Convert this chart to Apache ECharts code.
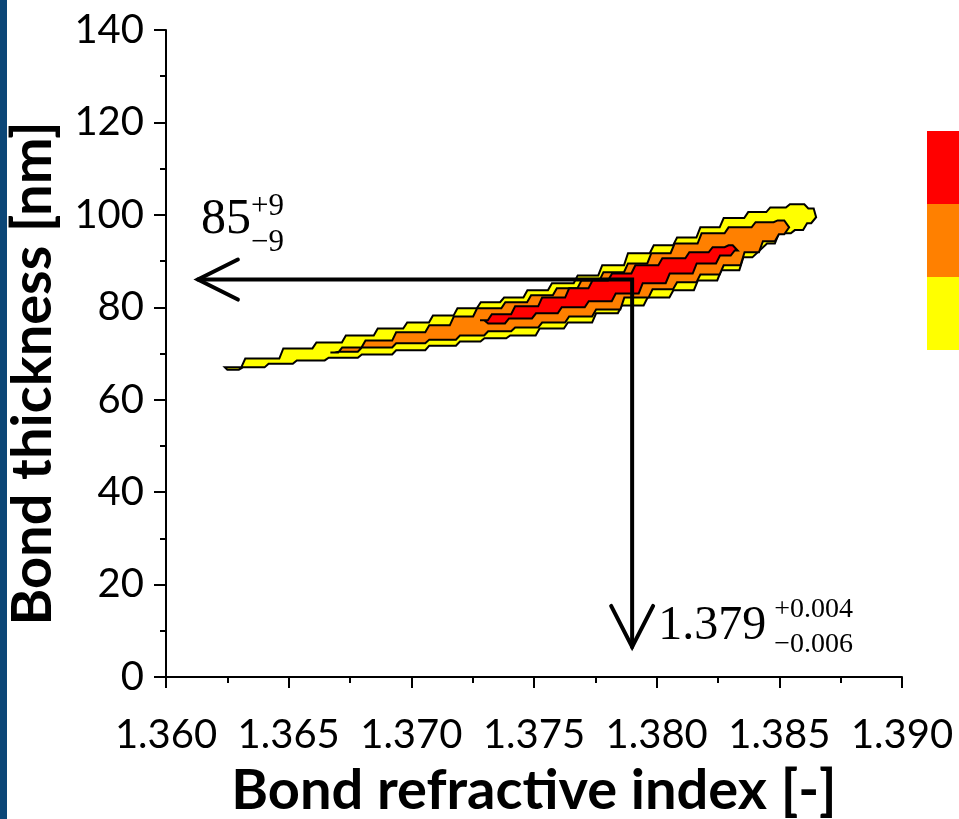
<!DOCTYPE html>
<html>
<head>
<meta charset="utf-8">
<script src="https://cdn.jsdelivr.net/npm/echarts@6/dist/echarts.min.js"></script>
<style>
  html, body { margin: 0; padding: 0; background: #fff; }
  #main { width: 959px; height: 819px; }
</style>
</head>
<body>
<div id="main"></div>
<script>
// axis ticks
var xTicks = [1.360, 1.365, 1.370, 1.375, 1.380, 1.385, 1.390];
var yTicks = [0, 20, 40, 60, 80, 100, 120, 140];

// contour outlines [refractive index, thickness nm]
var yellowContour = [
    [1.3624, 67.0], [1.3639, 68.9], [1.3655, 71.1], [1.3666, 72.4], [1.3679, 73.9],
    [1.3692, 75.4], [1.3703, 76.7], [1.3713, 78.2], [1.3723, 79.8], [1.3732, 81.1],
    [1.3742, 82.1], [1.3751, 83.7], [1.3762, 85.2], [1.3772, 86.9], [1.3782, 89.1],
    [1.3793, 91.7], [1.3803, 93.4], [1.3812, 95.1], [1.3822, 97.3], [1.3831, 99.3],
    [1.3842, 100.6], [1.3849, 101.6], [1.3858, 102.3], [1.3864, 101.4], [1.3865, 99.5],
    [1.3863, 98.2], [1.3858, 96.7], [1.3853, 96.0], [1.3845, 93.8], [1.3839, 90.8],
    [1.3830, 88.0], [1.3821, 85.8], [1.3811, 83.7], [1.3801, 82.1], [1.3790, 80.4],
    [1.3780, 78.7], [1.3769, 76.7], [1.3757, 75.4], [1.3746, 73.9], [1.3733, 73.3],
    [1.3725, 72.6], [1.3713, 71.7], [1.3700, 70.7], [1.3686, 69.8], [1.3672, 69.1],
    [1.3659, 68.5], [1.3646, 67.8], [1.3636, 67.0], [1.3625, 66.5]
];
var orangeContour = [
    [1.3667, 70.2], [1.3675, 71.3], [1.3686, 72.8], [1.3700, 74.6], [1.3713, 76.1],
    [1.3720, 78.0], [1.3732, 79.8], [1.3743, 81.1], [1.3753, 82.6], [1.3764, 84.1],
    [1.3773, 85.8], [1.3782, 87.6], [1.3793, 89.5], [1.3801, 91.7], [1.3812, 93.8],
    [1.3823, 96.0], [1.3834, 97.3], [1.3845, 98.4], [1.3852, 98.8], [1.3854, 97.3],
    [1.3852, 95.8], [1.3846, 94.3], [1.3839, 91.9], [1.3831, 89.1], [1.3822, 87.1],
    [1.3812, 85.4], [1.3803, 83.9], [1.3792, 82.1], [1.3780, 79.5], [1.3769, 78.0],
    [1.3758, 76.7], [1.3747, 75.6], [1.3736, 74.8], [1.3725, 73.9], [1.3713, 73.0],
    [1.3700, 72.2], [1.3686, 71.3], [1.3672, 70.4]
];
var redContour = [
    [1.3728, 77.2], [1.3736, 78.5], [1.3747, 80.2], [1.3758, 82.1], [1.3769, 84.1],
    [1.3777, 85.8], [1.3785, 87.3], [1.3796, 89.1], [1.3807, 90.6], [1.3818, 91.9],
    [1.3826, 93.0], [1.3831, 93.4], [1.3833, 92.3], [1.3829, 91.2], [1.3821, 89.5],
    [1.3810, 87.3], [1.3799, 85.2], [1.3788, 83.0], [1.3777, 81.3], [1.3766, 80.0],
    [1.3755, 78.7], [1.3745, 77.6], [1.3733, 76.5]
];

// best estimate and arrow ends
var bestIndex = 1.379;
var bestThickness = 86;
var arrowLeftIndex = 1.3613;
var arrowBottomThickness = 6.5;

var contours = [
    { pts: yellowContour, color: '#ffff00' },
    { pts: orangeContour, color: '#ff8000' },
    { pts: redContour, color: '#ff0000' }
];

var chart = echarts.init(document.getElementById('main'));

function stepped(points) {
    // grid-like staircase edges like the original contour plot
    var out = [points[0]];
    for (var i = 1; i <= points.length; i++) {
        var p1 = points[i - 1], p2 = points[i % points.length];
        var dx = p2[0] - p1[0], dy = p2[1] - p1[1];
        if (Math.abs(dx) > Math.abs(dy) * 1.5) {
            var mx = (p1[0] + p2[0]) / 2, s = dx > 0 ? 2 : -2;
            out.push([mx - s, p1[1]]);
            out.push([mx + s, p2[1]]);
        }
        out.push(p2);
    }
    return out;
}

var option = {
    backgroundColor: '#fff',
    animation: false,
    grid: { left: 166, right: 57, top: 30, bottom: 142, outerBoundsMode: 'none' },
    xAxis: {
        type: 'value',
        min: xTicks[0],
        max: xTicks[xTicks.length - 1],
        interval: 0.005,
        name: 'Bond refractive index [-]',
        nameLocation: 'middle',
        nameGap: 86,
        nameTextStyle: { fontFamily: 'Lato', fontWeight: 'bold', fontSize: 56, color: '#000' },
        axisLine: { lineStyle: { color: '#000', width: 2 } },
        axisTick: { length: 11, lineStyle: { color: '#000', width: 2 } },
        minorTick: { show: true, splitNumber: 2, length: 6, lineStyle: { color: '#000', width: 2 } },
        splitLine: { show: false },
        axisLabel: {
            margin: 38,
            fontFamily: 'Lato',
            fontSize: 40,
            color: '#000',
            formatter: function(v) { return v.toFixed(3); }
        }
    },
    yAxis: {
        type: 'value',
        min: yTicks[0],
        max: yTicks[yTicks.length - 1],
        interval: 20,
        name: 'Bond thickness [nm]',
        nameLocation: 'middle',
        nameGap: 105,
        nameTextStyle: { fontFamily: 'Lato', fontWeight: 'bold', fontSize: 56, color: '#000', padding: [0, 40, 0, 0] },
        axisLine: { lineStyle: { color: '#000', width: 2 } },
        axisTick: { length: 12, lineStyle: { color: '#000', width: 2 } },
        minorTick: { show: true, splitNumber: 2, length: 6, lineStyle: { color: '#000', width: 2 } },
        splitLine: { show: false },
        axisLabel: { margin: 22, fontFamily: 'Lato', fontSize: 40, color: '#000' }
    },
    graphic: [
        { type: 'rect', left: 0, top: 0, shape: { width: 7, height: 819 }, style: { fill: '#0b4677' } },
        { type: 'rect', left: 927, top: 131, shape: { width: 40, height: 73 }, style: { fill: '#ff0000' } },
        { type: 'rect', left: 927, top: 204, shape: { width: 40, height: 73 }, style: { fill: '#ff8000' } },
        { type: 'rect', left: 927, top: 277, shape: { width: 40, height: 73 }, style: { fill: '#ffff00' } }
    ],
    series: [
        {
            type: 'custom',
            name: 'contours',
            data: contours.map(function(c, i) { return [c.pts[0][0], c.pts[0][1], i]; }),
            renderItem: function(params, api) {
                var c = contours[api.value(2)];
                var px = c.pts.map(function(p) { return api.coord(p); });
                return {
                    type: 'polygon',
                    shape: { points: stepped(px) },
                    style: { fill: c.color, stroke: '#000', lineWidth: 2 }
                };
            },
            z: 2
        },
        {
            type: 'custom',
            name: 'arrows',
            data: [[bestIndex, bestThickness, arrowLeftIndex, arrowBottomThickness]],
            renderItem: function(params, api) {
                var corner = api.coord([api.value(0), api.value(1)]);
                var left = api.coord([api.value(2), api.value(1)]);
                var bottom = api.coord([api.value(0), api.value(3)]);
                var lineStyle = { stroke: '#000', lineWidth: 4, fill: null, lineCap: 'round', lineJoin: 'miter' };
                var serif = 'Liberation Serif';
                function txt(s, x, y, size) {
                    return {
                        type: 'text',
                        style: { text: s, x: x, y: y, fontFamily: serif, fontSize: size, fill: '#000', align: 'left', verticalAlign: 'middle' }
                    };
                }
                return {
                    type: 'group',
                    children: [
                        { type: 'polyline', shape: { points: [left, corner, bottom] }, style: lineStyle },
                        { type: 'polyline', shape: { points: [[left[0] + 40, left[1] - 20], left, [left[0] + 40, left[1] + 20]] }, style: lineStyle },
                        { type: 'polyline', shape: { points: [[bottom[0] - 21, bottom[1] - 41], bottom, [bottom[0] + 21, bottom[1] - 41]] }, style: lineStyle },
                        txt('85', left[0] + 3, left[1] - 60, 50),
                        txt('+9', left[0] + 53, left[1] - 73, 31),
                        txt('\u22129', left[0] + 53, left[1] - 37, 31),
                        txt('1.379', bottom[0] + 26, bottom[1] - 21, 48),
                        txt('+0.004', bottom[0] + 142, bottom[1] - 37, 28),
                        txt('\u22120.006', bottom[0] + 142, bottom[1] - 2, 28)
                    ]
                };
            },
            z: 5
        }
    ]
};

chart.setOption(option);
</script>
</body>
</html>
